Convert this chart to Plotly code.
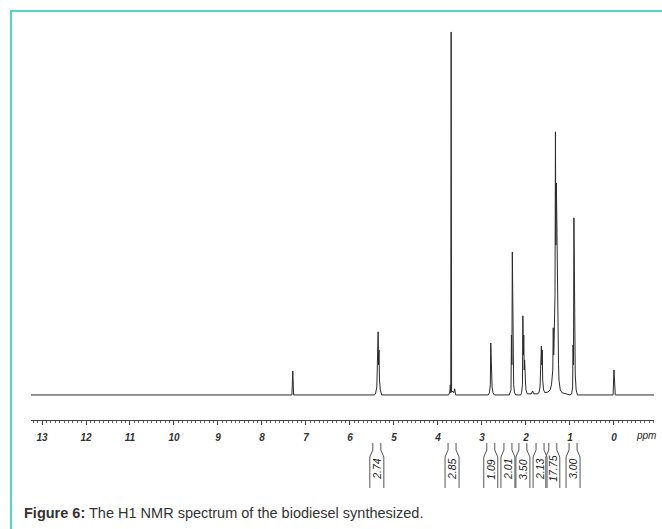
import plotly.graph_objects as go

# ---------------- data ----------------
# spectrum sample points: chemical shift (ppm) and relative intensity (3.67 ppm peak = 100)
ppm = [13.25, 7.32, 7.30, 7.28,
       5.45, 5.42, 5.39, 5.38, 5.37, 5.36, 5.35, 5.34, 5.33, 5.31, 5.28,
       3.76, 3.73, 3.72, 3.71, 3.70, 3.69, 3.66, 3.64, 3.62, 3.60,
       2.86, 2.83, 2.81, 2.80, 2.79, 2.78, 2.77, 2.75, 2.72,
       2.38, 2.36, 2.34, 2.33, 2.32, 2.31, 2.30, 2.29, 2.28, 2.26, 2.23,
       2.12, 2.10, 2.08, 2.07, 2.06, 2.05, 2.04, 2.03, 2.01, 2.00, 1.97,
       1.88, 1.85, 1.82,
       1.73, 1.70, 1.68, 1.67, 1.66, 1.65, 1.64, 1.63, 1.62, 1.60, 1.57,
       1.50, 1.45, 1.42, 1.39, 1.38, 1.37, 1.36, 1.35, 1.34, 1.33, 1.32,
       1.31, 1.30, 1.29, 1.28, 1.27, 1.26, 1.25, 1.22, 1.18, 1.10,
       1.00, 0.96, 0.94, 0.93, 0.92, 0.91, 0.90, 0.89, 0.88, 0.86, 0.83,
       0.70, 0.03, 0.02, 0.00, -0.02, -0.03, -0.91]
intensity = [0.0, 0.0, 6.6, 0.0,
             0.0, 0.3, 2.2, 11.0, 5.5, 17.4, 8.3, 12.4, 4.1, 1.4, 0.0,
             0.0, 0.8, 2.8, 0.6, 100.0, 0.8, 1.0, 0.6, 1.7, 0.0,
             0.0, 0.6, 2.8, 14.3, 8.3, 11.0, 2.2, 0.6, 0.0,
             0.0, 0.6, 1.4, 16.5, 8.3, 39.4, 13.8, 24.8, 2.8, 0.6, 0.0,
             0.0, 0.6, 2.8, 21.8, 11.0, 16.5, 6.9, 9.6, 3.3, 1.4, 0.3,
             0.3, 1.1, 0.3,
             0.3, 0.8, 2.2, 8.3, 5.5, 13.5, 8.3, 12.4, 4.1, 1.4, 0.6,
             0.8, 1.4, 2.8, 6.9, 18.5, 11.0, 15.2, 19.3, 27.5, 72.5, 41.3,
             58.4, 49.6, 33.1, 16.5, 15.7, 8.3, 4.1, 1.4, 0.6, 0.3,
             0.0, 0.3, 2.2, 13.8, 8.3, 48.8, 16.5, 27.5, 5.5, 1.4, 0.0,
             0.0, 0.0, 0.0, 6.9, 0.0, 0.0, 0.0]

# integral regions: centre (ppm) and integral value
integral_ppm = [5.39, 3.68, 2.80, 2.41, 2.07, 1.68, 1.39, 0.93]
integral_values = ["2.74", "2.85", "1.09", "2.01", "3.50", "2.13", "17.75", "3.00"]

# axis ticks
tick_ppm = list(range(0, 14))
tick_labels = [str(v) for v in tick_ppm]

caption_bold = "Figure 6:"
caption_text = "The H1 NMR spectrum of the biodiesel synthesized."

# ---------------- figure ----------------
W, H = 662, 529
L, R, T, B = 31, 8, 20, 109
plot_w = W - L - R
plot_h = H - T - B
x_range = [13.25, -0.91]
ppm_per_px = (x_range[0] - x_range[1]) / plot_w


def py(px_y):
    """pixel row -> paper y"""
    return (H - B - px_y) / plot_h


def px_x(px):
    return (px - L) / plot_w


fig = go.Figure()
fig.add_trace(go.Scatter(
    x=ppm, y=intensity, mode="lines",
    line=dict(color="#2a2a2a", width=1),
    hoverinfo="skip", showlegend=False,
))

shapes = []
annotations = []

# integral "bottle" markers + labels
for c, v in zip(integral_ppm, integral_values):
    n = 4 * ppm_per_px
    w = 7 * ppm_per_px
    y0, y1, y2, y3 = py(443), py(450), py(457), py(488)
    path = (f"M {c + n},{y0} L {c + n},{y1} L {c + w},{y2} L {c + w},{y3} "
            f"M {c - n},{y0} L {c - n},{y1} L {c - w},{y2} L {c - w},{y3}")
    shapes.append(dict(type="path", xref="x", yref="paper", path=path,
                       line=dict(color="#555555", width=1)))
    annotations.append(dict(x=c, y=py(469), xref="x", yref="paper", text=v,
                            showarrow=False, textangle=-90,
                            font=dict(family="Liberation Sans", size=10.5,
                                      color="#222222", style="italic"),
                            xanchor="center", yanchor="middle"))

annotations.append(dict(x=-0.72, y=py(435), xref="x", yref="paper", text="ppm",
                        showarrow=False,
                        font=dict(family="Liberation Sans", size=10,
                                  color="#222222", style="italic"),
                        xanchor="center", yanchor="middle"))

annotations.append(dict(x=px_x(22), y=py(513), xref="paper", yref="paper",
                        text=f"<b>{caption_bold}</b> {caption_text}",
                        showarrow=False, xanchor="left", yanchor="middle",
                        font=dict(family="Liberation Sans", size=14.5, color="#333333")))

# teal frame (left and top)
teal = "#55d6c2"
shapes.append(dict(type="line", xref="paper", yref="paper",
                   x0=px_x(11), x1=px_x(11), y0=py(11), y1=py(H + 2),
                   line=dict(color=teal, width=2)))
shapes.append(dict(type="line", xref="paper", yref="paper",
                   x0=px_x(10), x1=px_x(W + 2), y0=py(11), y1=py(11),
                   line=dict(color=teal, width=2)))

fig.update_layout(
    width=W, height=H,
    margin=dict(l=L, r=R, t=T, b=B),
    paper_bgcolor="white", plot_bgcolor="white",
    shapes=shapes, annotations=annotations,
    xaxis=dict(range=x_range, showgrid=False, zeroline=False,
               showline=True, linecolor="#444444", linewidth=1,
               tickmode="array", tickvals=tick_ppm, ticktext=tick_labels,
               ticks="outside", ticklen=4, tickcolor="#444444",
               ticklabelstandoff=4,
               minor=dict(dtick=0.1, tick0=0, ticks="outside", ticklen=2,
                          tickcolor="#666666"),
               tickfont=dict(family="Liberation Sans", size=10,
                             color="#333333", style="italic", weight="bold")),
    yaxis=dict(range=[-6.9, 103.3], visible=False),
)

fig.write_html(
    "out.html",
    config={"displayModeBar": False},
    post_script="document.body.style.margin='0px';"
                "document.body.style.overflow='hidden';",
)
